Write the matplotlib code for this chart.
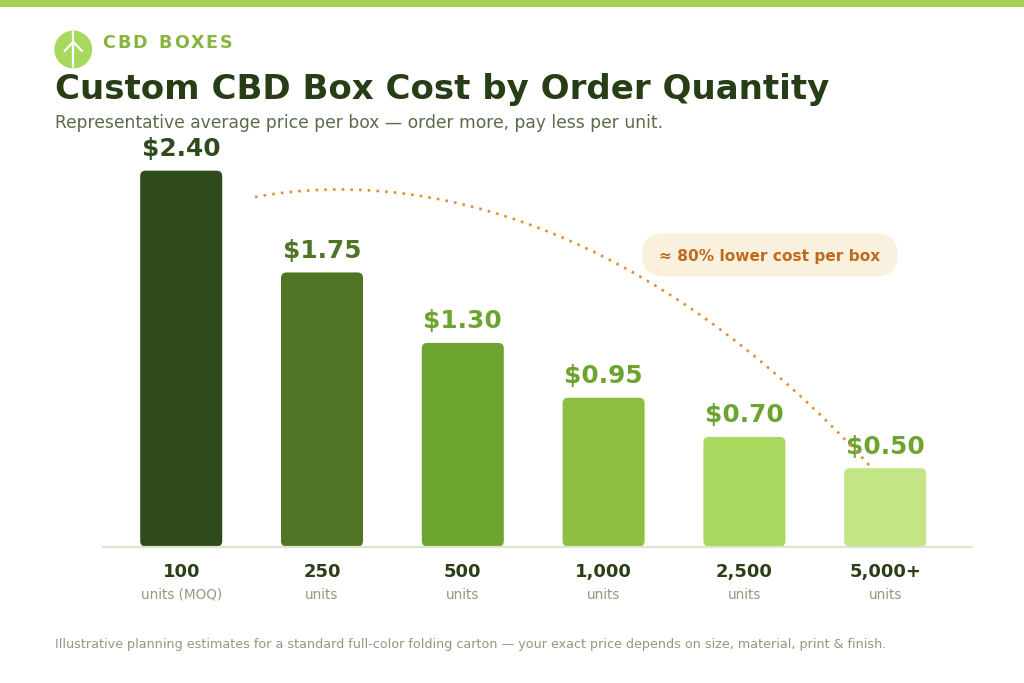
import matplotlib
matplotlib.use("Agg")
import matplotlib.pyplot as plt
from matplotlib.patches import FancyBboxPatch, Circle, Rectangle, PathPatch
from matplotlib.path import Path

W, H = 1024, 683
quantities = ["100", "250", "500", "1,000", "2,500", "5,000+"]
unit_labels = ["units (MOQ)", "units", "units", "units", "units", "units"]
prices = [2.40, 1.75, 1.30, 0.95, 0.70, 0.50]
price_labels = ["$2.40", "$1.75", "$1.30", "$0.95", "$0.70", "$0.50"]
bar_colors = ["#2F4A1C", "#4F7524", "#6DA32F", "#8DBF42", "#A6D95D", "#C3E585"]
label_colors = ["#2F4A1C", "#4F7524", "#6DA32F", "#6DA32F", "#6DA32F", "#6DA32F"]

plt.rcParams["font.family"] = "DejaVu Sans"
fig = plt.figure(figsize=(W / 100, H / 100), dpi=100, facecolor="white")

# pixel-coordinate overlay for page furniture
bg = fig.add_axes([0, 0, 1, 1])
bg.set_xlim(0, W)
bg.set_ylim(H, 0)
bg.axis("off")

# value axes: x = bar index, y = price
base_px, top_px, left_px, right_px = 546.5, 120.0, 102.0, 973.0
px_per_unit = 156.6
step_px = 140.8
x0_px = 181.2
ax = fig.add_axes([left_px / W, 1 - base_px / H, (right_px - left_px) / W, (base_px - top_px) / H])
ax.set_xlim((left_px - x0_px) / step_px, (right_px - x0_px) / step_px)
ax.set_ylim(0, (base_px - top_px) / px_per_unit)
ax.axis("off")
ax.patch.set_alpha(0)

bg.add_patch(Rectangle((0, 0), W, 7, color="#A3D154", lw=0))
bg.add_patch(Circle((73.3, 49.5), 18.9, color="#A6D95D", lw=0))
bg.plot([73.3, 73.3], [32, 67], color="white", lw=1.6, solid_capstyle="round")
bg.plot([64.5, 73.3, 82], [51, 42, 51], color="white", lw=1.6, solid_capstyle="round")
bars_w = 82 / step_px

# brand name with letter-spacing
x = 102.5
r = fig.canvas.get_renderer()
for ch in "CBD BOXES":
    t = bg.text(x, 48.2, ch, fontsize=12.6, fontweight="bold", color="#84B53E", va="baseline", ha="left")
    adv = r.get_text_width_height_descent(ch if ch != " " else "n", t.get_fontproperties(), False)[0]
    x += (adv if ch != " " else adv * 0.6) + 1.9

bg.text(55, 99.3, "Custom CBD Box Cost by Order Quantity", fontsize=24.5, fontweight="bold", color="#263D15", va="baseline")
bg.text(55, 128.5, "Representative average price per box \u2014 order more, pay less per unit.", fontsize=12.35, color="#5B6B4A", va="baseline")

bg.plot([left_px, right_px], [base_px, base_px], color="#DDE6CC", lw=1.6, solid_capstyle="butt")

rad_px = 5.5
for i, (v, c, lc, lab) in enumerate(zip(prices, bar_colors, label_colors, price_labels)):
    ax.add_patch(FancyBboxPatch((i - bars_w / 2, 0), bars_w, v,
                                boxstyle=f"round,pad=0,rounding_size={rad_px / step_px}",
                                mutation_aspect=step_px / px_per_unit,
                                fc=c, ec="none", lw=0, zorder=3))
    ax.annotate(lab, (i, v), xytext=(0, 10.4), textcoords="offset points", ha="center", va="baseline",
                fontsize=17.9, fontweight="bold", color=lc, zorder=5)
    cx = x0_px + i * step_px
    bg.text(cx, 577, quantities[i], ha="center", va="baseline", fontsize=13, fontweight="bold", color="#2A3F16")
    bg.text(cx, 599, unit_labels[i], ha="center", va="baseline", fontsize=9.75, color="#8F9A7E")

# trend curve
curve = Path([(255, 197), (425, 166), (650, 226), (870, 466)],
             [Path.MOVETO, Path.CURVE4, Path.CURVE4, Path.CURVE4])
ax_curve = PathPatch(curve, fc="none", ec="#E0902F", lw=1.9, linestyle=(0, (1, 2.3)), zorder=6)
bg.add_patch(ax_curve)
bg.set_zorder(ax.get_zorder() + 1)
bg.patch.set_alpha(0)

bg.add_patch(FancyBboxPatch((642, 233.5), 255.5, 43, boxstyle="round,pad=0,rounding_size=21.5",
                            fc="#FAF0DE", ec="none", lw=0, zorder=7))
bg.text(769.5, 261, "\u2248 80% lower cost per box", ha="center", va="baseline", fontsize=11.1, fontweight="bold",
        color="#BF6A1E", zorder=8)

bg.text(55, 647.8, "Illustrative planning estimates for a standard full-color folding carton \u2014 your exact price depends on size, material, print & finish.",
        fontsize=9.15, color="#8F9A7E", va="baseline")

fig.savefig("out.png", dpi=100, facecolor="white")
